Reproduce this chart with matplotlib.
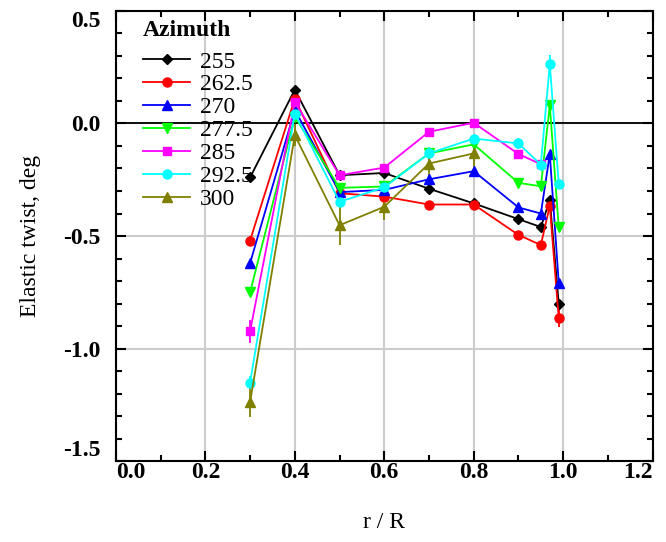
import numpy as np
from matplotlib import pyplot as plt
from matplotlib.ticker import MultipleLocator
from matplotlib.lines import Line2D

plt.rcParams['font.family'] = ['Liberation Serif', 'DejaVu Serif']

r = [0.3, 0.4, 0.5, 0.6, 0.7, 0.8, 0.9, 0.95, 0.97, 0.99]

az_labels = ['255', '262.5', '270', '277.5', '285', '292.5', '300']

tw_255 = [-0.24, 0.15, -0.23, -0.22, -0.29, -0.355, -0.425, -0.46, -0.34, -0.80]
tw_262 = [-0.52, 0.11, -0.31, -0.325, -0.36, -0.36, -0.495, -0.54, -0.365, -0.865]
tw_270 = [-0.62, 0.06, -0.305, -0.295, -0.248, -0.212, -0.373, -0.40, -0.136, -0.708]
tw_277 = [-0.75, 0.03, -0.286, -0.28, -0.133, -0.093, -0.264, -0.279, 0.081, -0.462]
tw_285 = [-0.923, 0.096, -0.23, -0.196, -0.037, 0.003, -0.136, -0.181]
tw_292 = [-1.151, 0.044, -0.348, -0.284, -0.133, -0.067, -0.089, -0.183, 0.264, -0.27]
tw_300 = [-1.237, -0.052, -0.452, -0.37, -0.178, -0.133]

err_255 = [0, 0.01, 0, 0, 0, 0, 0, 0, 0.01, 0.02]
err_262 = [0.02, 0.01, 0, 0, 0, 0, 0, 0, 0.01, 0.04]
err_270 = [0, 0.01, 0, 0, 0.01, 0, 0, 0, 0.01, 0.01]
err_277 = [0, 0.01, 0, 0, 0, 0, 0, 0, 0.02, 0]
err_285 = [0.05, 0.01, 0, 0, 0, 0, 0, 0]
err_292 = [0.03, 0.02, 0, 0.02, 0.03, 0.02, 0.025, 0, 0.04, 0]
err_300 = [0.065, 0.05, 0.09, 0.06, 0.065, 0.065]

series = [tw_255, tw_262, tw_270, tw_277, tw_285, tw_292, tw_300]
errs = [err_255, err_262, err_270, err_277, err_285, err_292, err_300]
colors = ['black', 'red', 'blue', '#00ff00', 'magenta', 'cyan', '#808000']
markers = ['D', 'o', '^', 'v', 's', 'o', '^']
msizes = [5.5, 6.5, 7, 7, 6, 6.5, 7]

fig = plt.figure(figsize=(6.66, 5.42), dpi=100)
ax = fig.add_axes([0.174, 0.149, 0.806, 0.831])

handles = []
for y, e, c, m, ms, lab in zip(series, errs, colors, markers, msizes, az_labels):
    x = r[:len(y)]
    ax.errorbar(x, y, yerr=e, color=c, marker=m, markersize=ms, linewidth=1.3,
                elinewidth=1.3, capsize=0, zorder=3)
    handles.append(Line2D([], [], color=c, marker=m, markersize=ms, linewidth=1.3, label=lab))

ax.axhline(0, color='black', linewidth=1.3, zorder=2)

ax.xaxis.set_major_locator(MultipleLocator(0.2))
ax.xaxis.set_minor_locator(MultipleLocator(0.1))
ax.yaxis.set_major_locator(MultipleLocator(0.5))
ax.yaxis.set_minor_locator(MultipleLocator(0.1))
ax.grid(True, which='major', color='#cccccc', linewidth=1.5, zorder=0)
ax.set_axisbelow(True)

ax.tick_params(which='both', direction='in', top=True, right=True, width=1.5)
ax.tick_params(which='major', length=7, labelsize=17)
ax.tick_params(axis='x', which='major', pad=0.5)
ax.tick_params(axis='y', which='major', pad=11)
ax.tick_params(which='minor', length=4)
for s in ax.spines.values():
    s.set_linewidth(1.5)

xt = [0.0, 0.2, 0.4, 0.6, 0.8, 1.0, 1.2]
yt = [-1.5, -1.0, -0.5, 0.0, 0.5]
ax.set_xticks(xt)
ax.set_xticklabels(['%.1f' % v for v in xt], fontweight='bold')
ax.set_yticks(yt)
ax.set_yticklabels(['%.1f' % v for v in yt], fontweight='bold')
ax.set_xlim(0, 1.2)
ax.set_ylim(-1.5, 0.5)
for t in ax.get_xticklabels():
    if t.get_text() == '0.0':
        t.set_ha('left')
    if t.get_text() == '1.2':
        t.set_ha('right')
for t in ax.get_yticklabels():
    if t.get_text() == '0.5':
        t.set_va('top')
    if t.get_text() == '-1.5':
        t.set_va('bottom')

ax.set_xlabel('r / R', fontsize=17, labelpad=21)
ax.set_ylabel('Elastic twist, deg', fontsize=17, labelpad=16)

fig.text(143 / 666, 1 - 30 / 542, 'Azimuth', fontsize=17, fontweight='bold',
         ha='left', va='center')
leg = ax.legend(handles=handles, loc='upper left', frameon=False,
                bbox_to_anchor=(143 / 666, 1 - 51 / 542), bbox_transform=fig.transFigure,
                fontsize=17, handlelength=2.0, labelspacing=0.06, borderaxespad=0,
                handletextpad=0.4, borderpad=0)

fig.savefig('out.png', dpi=100)
